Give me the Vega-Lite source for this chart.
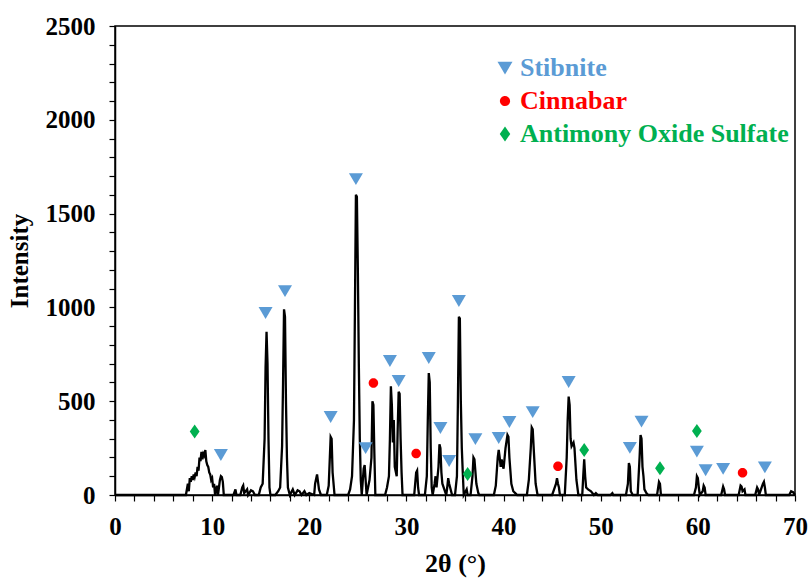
{
  "$schema": "https://vega.github.io/schema/vega-lite/v6.json",
  "width": 680,
  "height": 469,
  "autosize": {"type": "none"},
  "padding": {"left": 115, "top": 26, "right": 16, "bottom": 86},
  "background": "white",
  "datasets": {
    "xrd": [
      {"two_theta": 0, "intensity": 0}, {"two_theta": 7.3, "intensity": 0}, {"two_theta": 7.5, "intensity": 60}, {"two_theta": 7.6, "intensity": 20}, {"two_theta": 7.7, "intensity": 90}, {"two_theta": 7.8, "intensity": 70}, {"two_theta": 7.9, "intensity": 100}, {"two_theta": 8.0, "intensity": 80}, {"two_theta": 8.1, "intensity": 110}, {"two_theta": 8.2, "intensity": 95}, {"two_theta": 8.3, "intensity": 120}, {"two_theta": 8.4, "intensity": 100}, {"two_theta": 8.5, "intensity": 150}, {"two_theta": 8.6, "intensity": 130}, {"two_theta": 8.7, "intensity": 200}, {"two_theta": 8.8, "intensity": 180}, {"two_theta": 8.9, "intensity": 230}, {"two_theta": 9.0, "intensity": 190}, {"two_theta": 9.1, "intensity": 220}, {"two_theta": 9.2, "intensity": 210}, {"two_theta": 9.3, "intensity": 240}, {"two_theta": 9.4, "intensity": 180}, {"two_theta": 9.5, "intensity": 160}, {"two_theta": 9.6, "intensity": 150}, {"two_theta": 9.7, "intensity": 120}, {"two_theta": 9.8, "intensity": 110}, {"two_theta": 9.9, "intensity": 80}, {"two_theta": 10.0, "intensity": 90}, {"two_theta": 10.1, "intensity": 40}, {"two_theta": 10.2, "intensity": 60}, {"two_theta": 10.3, "intensity": 0}, {"two_theta": 10.5, "intensity": 50}, {"two_theta": 10.6, "intensity": 0}, {"two_theta": 10.7, "intensity": 40}, {"two_theta": 10.8, "intensity": 80}, {"two_theta": 10.9, "intensity": 100}, {"two_theta": 11.0, "intensity": 95}, {"two_theta": 11.1, "intensity": 70}, {"two_theta": 11.2, "intensity": 0},
      {"two_theta": 12.2, "intensity": 0}, {"two_theta": 12.4, "intensity": 30}, {"two_theta": 12.5, "intensity": 0}, {"two_theta": 12.9, "intensity": 0}, {"two_theta": 13.1, "intensity": 40}, {"two_theta": 13.2, "intensity": 50}, {"two_theta": 13.3, "intensity": 10}, {"two_theta": 13.6, "intensity": 30}, {"two_theta": 13.7, "intensity": 0}, {"two_theta": 14.0, "intensity": 25}, {"two_theta": 14.2, "intensity": 20}, {"two_theta": 14.4, "intensity": 0}, {"two_theta": 14.8, "intensity": 0}, {"two_theta": 15.0, "intensity": 40}, {"two_theta": 15.2, "intensity": 60}, {"two_theta": 15.4, "intensity": 300}, {"two_theta": 15.5, "intensity": 680}, {"two_theta": 15.6, "intensity": 870}, {"two_theta": 15.7, "intensity": 700}, {"two_theta": 15.8, "intensity": 300}, {"two_theta": 15.9, "intensity": 40}, {"two_theta": 16.0, "intensity": 0}, {"two_theta": 16.5, "intensity": 0}, {"two_theta": 16.8, "intensity": 20}, {"two_theta": 17.0, "intensity": 40}, {"two_theta": 17.2, "intensity": 260}, {"two_theta": 17.3, "intensity": 600}, {"two_theta": 17.4, "intensity": 990}, {"two_theta": 17.5, "intensity": 950}, {"two_theta": 17.6, "intensity": 500}, {"two_theta": 17.7, "intensity": 200}, {"two_theta": 17.8, "intensity": 40}, {"two_theta": 18.0, "intensity": 0}, {"two_theta": 18.3, "intensity": 30}, {"two_theta": 18.5, "intensity": 0}, {"two_theta": 18.8, "intensity": 25}, {"two_theta": 19.0, "intensity": 20}, {"two_theta": 19.2, "intensity": 0}, {"two_theta": 19.5, "intensity": 20}, {"two_theta": 19.7, "intensity": 0}, {"two_theta": 20.0, "intensity": 10}, {"two_theta": 20.5, "intensity": 0}, {"two_theta": 20.6, "intensity": 60}, {"two_theta": 20.8, "intensity": 110}, {"two_theta": 21.0, "intensity": 30}, {"two_theta": 21.2, "intensity": 0}, {"two_theta": 21.8, "intensity": 0}, {"two_theta": 22.0, "intensity": 50}, {"two_theta": 22.2, "intensity": 310}, {"two_theta": 22.3, "intensity": 300}, {"two_theta": 22.4, "intensity": 120}, {"two_theta": 22.6, "intensity": 0},
      {"two_theta": 24.0, "intensity": 0}, {"two_theta": 24.2, "intensity": 30}, {"two_theta": 24.4, "intensity": 100}, {"two_theta": 24.6, "intensity": 400}, {"two_theta": 24.7, "intensity": 1000}, {"two_theta": 24.8, "intensity": 1600}, {"two_theta": 24.9, "intensity": 1590}, {"two_theta": 25.0, "intensity": 1200}, {"two_theta": 25.1, "intensity": 700}, {"two_theta": 25.2, "intensity": 300}, {"two_theta": 25.3, "intensity": 80}, {"two_theta": 25.4, "intensity": 0}, {"two_theta": 25.6, "intensity": 140}, {"two_theta": 25.7, "intensity": 160}, {"two_theta": 25.8, "intensity": 80}, {"two_theta": 25.9, "intensity": 0}, {"two_theta": 26.2, "intensity": 80}, {"two_theta": 26.4, "intensity": 200}, {"two_theta": 26.5, "intensity": 500}, {"two_theta": 26.6, "intensity": 480}, {"two_theta": 26.7, "intensity": 220}, {"two_theta": 26.8, "intensity": 0}, {"two_theta": 27.8, "intensity": 0}, {"two_theta": 28.0, "intensity": 40}, {"two_theta": 28.2, "intensity": 100}, {"two_theta": 28.3, "intensity": 300}, {"two_theta": 28.4, "intensity": 580}, {"two_theta": 28.5, "intensity": 480}, {"two_theta": 28.6, "intensity": 280}, {"two_theta": 28.7, "intensity": 400}, {"two_theta": 28.8, "intensity": 150}, {"two_theta": 29.0, "intensity": 100}, {"two_theta": 29.1, "intensity": 350}, {"two_theta": 29.2, "intensity": 550}, {"two_theta": 29.3, "intensity": 540}, {"two_theta": 29.4, "intensity": 300}, {"two_theta": 29.5, "intensity": 120}, {"two_theta": 29.6, "intensity": 0}, {"two_theta": 30.8, "intensity": 0}, {"two_theta": 31.0, "intensity": 120}, {"two_theta": 31.1, "intensity": 130}, {"two_theta": 31.2, "intensity": 40}, {"two_theta": 31.3, "intensity": 0}, {"two_theta": 31.9, "intensity": 0}, {"two_theta": 32.1, "intensity": 100}, {"two_theta": 32.2, "intensity": 400}, {"two_theta": 32.3, "intensity": 650}, {"two_theta": 32.4, "intensity": 600}, {"two_theta": 32.5, "intensity": 250}, {"two_theta": 32.6, "intensity": 40}, {"two_theta": 32.7, "intensity": 0}, {"two_theta": 32.9, "intensity": 60}, {"two_theta": 33.0, "intensity": 100}, {"two_theta": 33.1, "intensity": 40}, {"two_theta": 33.3, "intensity": 150}, {"two_theta": 33.4, "intensity": 270}, {"two_theta": 33.5, "intensity": 250}, {"two_theta": 33.6, "intensity": 120}, {"two_theta": 33.7, "intensity": 60}, {"two_theta": 33.9, "intensity": 30}, {"two_theta": 34.1, "intensity": 0}, {"two_theta": 34.2, "intensity": 40}, {"two_theta": 34.3, "intensity": 90}, {"two_theta": 34.4, "intensity": 60}, {"two_theta": 34.5, "intensity": 40}, {"two_theta": 34.7, "intensity": 0}, {"two_theta": 35.0, "intensity": 0}, {"two_theta": 35.2, "intensity": 100}, {"two_theta": 35.3, "intensity": 500}, {"two_theta": 35.4, "intensity": 950}, {"two_theta": 35.5, "intensity": 940}, {"two_theta": 35.6, "intensity": 500}, {"two_theta": 35.7, "intensity": 250}, {"two_theta": 35.8, "intensity": 120}, {"two_theta": 35.9, "intensity": 0}, {"two_theta": 36.2, "intensity": 30}, {"two_theta": 36.3, "intensity": 0}, {"two_theta": 36.6, "intensity": 0}, {"two_theta": 36.8, "intensity": 100}, {"two_theta": 36.9, "intensity": 200}, {"two_theta": 37.0, "intensity": 190}, {"two_theta": 37.2, "intensity": 60}, {"two_theta": 37.4, "intensity": 10}, {"two_theta": 37.5, "intensity": 0},
      {"two_theta": 39.0, "intensity": 0}, {"two_theta": 39.2, "intensity": 50}, {"two_theta": 39.4, "intensity": 200}, {"two_theta": 39.5, "intensity": 240}, {"two_theta": 39.6, "intensity": 200}, {"two_theta": 39.7, "intensity": 150}, {"two_theta": 39.8, "intensity": 190}, {"two_theta": 39.9, "intensity": 160}, {"two_theta": 40.0, "intensity": 140}, {"two_theta": 40.2, "intensity": 250}, {"two_theta": 40.4, "intensity": 320}, {"two_theta": 40.5, "intensity": 310}, {"two_theta": 40.6, "intensity": 200}, {"two_theta": 40.8, "intensity": 60}, {"two_theta": 41.0, "intensity": 20}, {"two_theta": 41.2, "intensity": 10}, {"two_theta": 41.4, "intensity": 0}, {"two_theta": 42.4, "intensity": 0}, {"two_theta": 42.6, "intensity": 80}, {"two_theta": 42.8, "intensity": 250}, {"two_theta": 42.9, "intensity": 360}, {"two_theta": 43.0, "intensity": 350}, {"two_theta": 43.1, "intensity": 250}, {"two_theta": 43.3, "intensity": 60}, {"two_theta": 43.5, "intensity": 0}, {"two_theta": 45.0, "intensity": 0}, {"two_theta": 45.2, "intensity": 30}, {"two_theta": 45.4, "intensity": 60}, {"two_theta": 45.5, "intensity": 90}, {"two_theta": 45.6, "intensity": 60}, {"two_theta": 45.7, "intensity": 40}, {"two_theta": 45.8, "intensity": 0}, {"two_theta": 46.3, "intensity": 0}, {"two_theta": 46.5, "intensity": 200}, {"two_theta": 46.6, "intensity": 400}, {"two_theta": 46.7, "intensity": 525}, {"two_theta": 46.8, "intensity": 480}, {"two_theta": 46.9, "intensity": 300}, {"two_theta": 47.0, "intensity": 260}, {"two_theta": 47.2, "intensity": 280}, {"two_theta": 47.3, "intensity": 250}, {"two_theta": 47.5, "intensity": 80}, {"two_theta": 47.7, "intensity": 0}, {"two_theta": 48.1, "intensity": 0}, {"two_theta": 48.2, "intensity": 100}, {"two_theta": 48.3, "intensity": 190}, {"two_theta": 48.4, "intensity": 100}, {"two_theta": 48.5, "intensity": 40}, {"two_theta": 48.7, "intensity": 30}, {"two_theta": 49.0, "intensity": 20}, {"two_theta": 49.3, "intensity": 0}, {"two_theta": 49.5, "intensity": 10}, {"two_theta": 49.7, "intensity": 0}, {"two_theta": 51.0, "intensity": 0}, {"two_theta": 51.2, "intensity": 10}, {"two_theta": 51.3, "intensity": 0},
      {"two_theta": 52.6, "intensity": 0}, {"two_theta": 52.8, "intensity": 60}, {"two_theta": 52.9, "intensity": 170}, {"two_theta": 53.0, "intensity": 150}, {"two_theta": 53.1, "intensity": 20}, {"two_theta": 53.3, "intensity": 0}, {"two_theta": 53.8, "intensity": 0}, {"two_theta": 54.0, "intensity": 200}, {"two_theta": 54.1, "intensity": 320}, {"two_theta": 54.2, "intensity": 300}, {"two_theta": 54.3, "intensity": 150}, {"two_theta": 54.4, "intensity": 100}, {"two_theta": 54.5, "intensity": 30}, {"two_theta": 54.7, "intensity": 10}, {"two_theta": 54.9, "intensity": 0}, {"two_theta": 55.8, "intensity": 0}, {"two_theta": 56.0, "intensity": 70}, {"two_theta": 56.1, "intensity": 60}, {"two_theta": 56.2, "intensity": 0}, {"two_theta": 59.6, "intensity": 0}, {"two_theta": 59.8, "intensity": 40}, {"two_theta": 59.9, "intensity": 100}, {"two_theta": 60.0, "intensity": 90}, {"two_theta": 60.1, "intensity": 40}, {"two_theta": 60.2, "intensity": 0}, {"two_theta": 60.5, "intensity": 20}, {"two_theta": 60.6, "intensity": 50}, {"two_theta": 60.7, "intensity": 40}, {"two_theta": 60.8, "intensity": 0}, {"two_theta": 62.4, "intensity": 0}, {"two_theta": 62.6, "intensity": 45}, {"two_theta": 62.7, "intensity": 30}, {"two_theta": 62.8, "intensity": 0}, {"two_theta": 64.2, "intensity": 0}, {"two_theta": 64.4, "intensity": 50}, {"two_theta": 64.5, "intensity": 45}, {"two_theta": 64.6, "intensity": 20}, {"two_theta": 64.8, "intensity": 30}, {"two_theta": 64.9, "intensity": 0}, {"two_theta": 65.9, "intensity": 0}, {"two_theta": 66.1, "intensity": 40}, {"two_theta": 66.2, "intensity": 30}, {"two_theta": 66.3, "intensity": 0}, {"two_theta": 66.5, "intensity": 30}, {"two_theta": 66.7, "intensity": 60}, {"two_theta": 66.8, "intensity": 70}, {"two_theta": 66.9, "intensity": 40}, {"two_theta": 67.0, "intensity": 0}, {"two_theta": 69.4, "intensity": 0}, {"two_theta": 69.6, "intensity": 20}, {"two_theta": 69.8, "intensity": 15}, {"two_theta": 70.0, "intensity": 0}
    ],
    "peaks": [
      {"phase": "Stibnite", "two_theta": 10.9, "intensity": 213}, {"phase": "Stibnite", "two_theta": 15.5, "intensity": 970}, {"phase": "Stibnite", "two_theta": 17.5, "intensity": 1087}, {"phase": "Stibnite", "two_theta": 22.2, "intensity": 416}, {"phase": "Stibnite", "two_theta": 24.8, "intensity": 1684}, {"phase": "Stibnite", "two_theta": 25.8, "intensity": 250}, {"phase": "Stibnite", "two_theta": 28.3, "intensity": 714}, {"phase": "Stibnite", "two_theta": 29.2, "intensity": 608}, {"phase": "Stibnite", "two_theta": 32.3, "intensity": 730}, {"phase": "Stibnite", "two_theta": 33.5, "intensity": 357}, {"phase": "Stibnite", "two_theta": 34.4, "intensity": 181}, {"phase": "Stibnite", "two_theta": 35.4, "intensity": 1034}, {"phase": "Stibnite", "two_theta": 37.1, "intensity": 298}, {"phase": "Stibnite", "two_theta": 39.5, "intensity": 304}, {"phase": "Stibnite", "two_theta": 40.6, "intensity": 389}, {"phase": "Stibnite", "two_theta": 43.0, "intensity": 442}, {"phase": "Stibnite", "two_theta": 46.7, "intensity": 602}, {"phase": "Stibnite", "two_theta": 53.0, "intensity": 251}, {"phase": "Stibnite", "two_theta": 54.2, "intensity": 391}, {"phase": "Stibnite", "two_theta": 59.9, "intensity": 231}, {"phase": "Stibnite", "two_theta": 60.8, "intensity": 132}, {"phase": "Stibnite", "two_theta": 62.6, "intensity": 139}, {"phase": "Stibnite", "two_theta": 66.9, "intensity": 147},
      {"phase": "Cinnabar", "two_theta": 26.6, "intensity": 597}, {"phase": "Cinnabar", "two_theta": 31.0, "intensity": 221}, {"phase": "Cinnabar", "two_theta": 45.6, "intensity": 153}, {"phase": "Cinnabar", "two_theta": 64.6, "intensity": 118},
      {"phase": "Antimony Oxide Sulfate", "two_theta": 8.2, "intensity": 339}, {"phase": "Antimony Oxide Sulfate", "two_theta": 36.3, "intensity": 112}, {"phase": "Antimony Oxide Sulfate", "two_theta": 48.3, "intensity": 240}, {"phase": "Antimony Oxide Sulfate", "two_theta": 56.1, "intensity": 142}, {"phase": "Antimony Oxide Sulfate", "two_theta": 59.9, "intensity": 341}
    ]
  },
  "encoding": {
    "x": {
      "field": "two_theta", "type": "quantitative",
      "scale": {"domain": [0, 70], "nice": false, "zero": false},
      "axis": {
        "title": "2θ (°)",
        "values": [0, 2, 4, 6, 8, 10, 12, 14, 16, 18, 20, 22, 24, 26, 28, 30, 32, 34, 36, 38, 40, 42, 44, 46, 48, 50, 52, 54, 56, 58, 60, 62, 64, 66, 68, 70],
        "labelExpr": "datum.value % 10 === 0 ? datum.label : ''",
        "labelOverlap": false,
        "labelFlush": false,
        "labelBound": false,
        "labelPadding": 13,
        "titlePadding": 11,
        "titleFontSize": 26
      }
    },
    "y": {
      "field": "intensity", "type": "quantitative",
      "scale": {"domain": [0, 2500], "nice": false},
      "axis": {
        "title": "Intensity",
        "values": [0, 100, 200, 300, 400, 500, 600, 700, 800, 900, 1000, 1100, 1200, 1300, 1400, 1500, 1600, 1700, 1800, 1900, 2000, 2100, 2200, 2300, 2400, 2500],
        "labelExpr": "datum.value % 500 === 0 ? datum.label : ''",
        "labelOverlap": false,
        "labelFlush": false,
        "format": "d",
        "labelPadding": 14,
        "titlePadding": 13,
        "titleFontSize": 25
      }
    }
  },
  "layer": [
    {
      "data": {"name": "xrd"},
      "mark": {"type": "line", "color": "black", "strokeWidth": 2.3, "interpolate": "linear"}
    },
    {
      "data": {"name": "peaks"},
      "mark": {"type": "point", "filled": true, "opacity": 1, "size": 196, "strokeWidth": 0},
      "encoding": {
        "shape": {
          "field": "phase", "type": "nominal",
          "scale": {
            "domain": ["Stibnite", "Cinnabar", "Antimony Oxide Sulfate"],
            "range": ["M-1,-0.85L1,-0.85L0,0.85Z", "M0.68,0A0.68,0.68 0 1,1 -0.68,0A0.68,0.68 0 1,1 0.68,0Z", "M0,-1L0.7,0L0,1L-0.7,0Z"]
          },
          "legend": {
            "title": null, "orient": "none", "legendX": 377, "legendY": 29,
            "symbolSize": 225, "labelOffset": 2, "rowPadding": 7, "padding": 0,
            "labelFont": "Liberation Serif", "labelFontSize": 26, "labelFontWeight": "bold",
            "labelColor": {"expr": "datum.label == 'Stibnite' ? '#5B9BD5' : datum.label == 'Cinnabar' ? '#FF0000' : '#00B050'"},
            "labelLimit": 400
          }
        },
        "color": {
          "field": "phase", "type": "nominal",
          "scale": {
            "domain": ["Stibnite", "Cinnabar", "Antimony Oxide Sulfate"],
            "range": ["#5B9BD5", "#FF0000", "#00B050"]
          },
          "legend": {
            "title": null, "orient": "none", "legendX": 377, "legendY": 29,
            "symbolSize": 225, "labelOffset": 2, "rowPadding": 7, "padding": 0,
            "labelFont": "Liberation Serif", "labelFontSize": 26, "labelFontWeight": "bold",
            "labelColor": {"expr": "datum.label == 'Stibnite' ? '#5B9BD5' : datum.label == 'Cinnabar' ? '#FF0000' : '#00B050'"},
            "labelLimit": 400
          }
        }
      }
    }
  ],
  "config": {
    "view": {"stroke": "black", "strokeWidth": 1.5},
    "axis": {
      "grid": false,
      "domainColor": "black",
      "domainWidth": 1.5,
      "tickColor": "black",
      "tickWidth": 1.2,
      "tickSize": 6,
      "labelFont": "Liberation Serif",
      "labelFontSize": 25,
      "labelFontWeight": "bold",
      "labelColor": "black",
      "titleFont": "Liberation Serif",
      "titleFontSize": 26,
      "titleFontWeight": "bold",
      "titleColor": "black"
    }
  }
}
